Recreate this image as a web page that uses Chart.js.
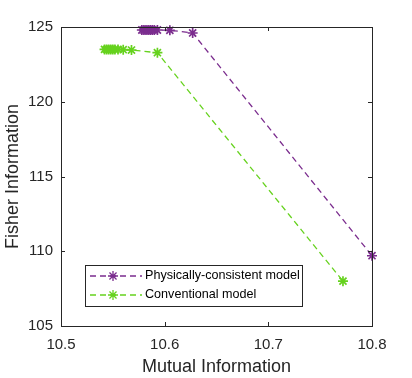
<!DOCTYPE html>
<html>
<head>
<meta charset="utf-8">
<script src="https://cdn.jsdelivr.net/npm/chart.js@4"></script>
<style>
  html, body { margin: 0; padding: 0; background: #fff; }
  #wrap { width: 412px; height: 378px; }
</style>
</head>
<body>
<div id="wrap"><canvas id="myChart" width="412" height="378"></canvas></div>
<script>
// values
const physMI = [10.578, 10.580, 10.582, 10.584, 10.586, 10.588, 10.590, 10.593, 10.605, 10.627, 10.800];
const physFI = [124.80, 124.80, 124.80, 124.80, 124.80, 124.80, 124.80, 124.80, 124.78, 124.60, 109.70];
const convMI = [10.542, 10.544, 10.546, 10.548, 10.550, 10.552, 10.555, 10.560, 10.568, 10.593, 10.772];
const convFI = [123.50, 123.50, 123.50, 123.50, 123.50, 123.50, 123.50, 123.48, 123.46, 123.28, 108.00];
const seriesNames = ["Physically-consistent model", "Conventional model"];
const xTicks = [10.5, 10.6, 10.7, 10.8];
const yTicks = [105, 110, 115, 120, 125];

const purple = "#7B2D8E";
const green = "#66D21E";
const FONT = "'Liberation Sans', Arial, sans-serif";

const toPoints = (xs, ys) => xs.map((x, i) => ({ x: x, y: ys[i] }));

const makeSet = (label, data, color) => ({
    label: label,
    data: data,
    borderColor: color,
    backgroundColor: color,
    borderWidth: 1.3,
    borderDash: [6, 4],
    pointStyle: "star",
    pointRadius: 5,
    pointBorderWidth: 1.7,
    showLine: true,
    tension: 0,
});

// MATLAB-like box with inward ticks and an inside legend
const boxPlugin = {
    id: "boxPlugin",
    afterDraw(chart) {
        const { ctx, chartArea: a, scales } = chart;
        ctx.save();
        ctx.strokeStyle = "#262626";
        ctx.lineWidth = 1;
        ctx.setLineDash([]);
        ctx.strokeRect(a.left + 0.5, a.top + 0.5, a.right - a.left, a.bottom - a.top);
        const len = 4;
        ctx.beginPath();
        xTicks.forEach(v => {
            const px = Math.round(scales.x.getPixelForValue(v)) + 0.5;
            ctx.moveTo(px, a.bottom); ctx.lineTo(px, a.bottom - len);
            ctx.moveTo(px, a.top); ctx.lineTo(px, a.top + len);
        });
        yTicks.forEach(v => {
            const py = Math.round(scales.y.getPixelForValue(v)) + 0.5;
            ctx.moveTo(a.left, py); ctx.lineTo(a.left + len, py);
            ctx.moveTo(a.right, py); ctx.lineTo(a.right - len, py);
        });
        ctx.stroke();

        // legend
        const lx = 85, ly = 265, lw = 217, lh = 41;
        ctx.fillStyle = "#fff";
        ctx.fillRect(lx, ly, lw, lh);
        ctx.strokeStyle = "#262626";
        ctx.strokeRect(lx + 0.5, ly + 0.5, lw, lh);
        chart.data.datasets.forEach((ds, i) => {
            const y = ly + 11 + i * 19;
            ctx.strokeStyle = ds.borderColor;
            ctx.lineWidth = 1.3;
            ctx.setLineDash([6, 4]);
            ctx.beginPath();
            ctx.moveTo(lx + 5, y);
            ctx.lineTo(lx + 57, y);
            ctx.stroke();
            ctx.setLineDash([]);
            Chart.helpers.drawPoint(ctx, { pointStyle: "star", radius: 5, borderWidth: 1.7 }, lx + 28, y);
            ctx.fillStyle = "#000";
            ctx.font = "12.6px " + FONT;
            ctx.textBaseline = "middle";
            ctx.fillText(ds.label, lx + 60, y);
        });
        ctx.restore();
    }
};

new Chart(document.getElementById("myChart"), {
    type: "scatter",
    data: {
        datasets: [
            makeSet(seriesNames[0], toPoints(physMI, physFI), purple),
            makeSet(seriesNames[1], toPoints(convMI, convFI), green),
        ]
    },
    options: {
        responsive: false,
        animation: false,
        clip: false,
        layout: { padding: { top: 27, right: 40, left: 0, bottom: 0 } },
        plugins: { legend: { display: false }, tooltip: { enabled: false } },
        scales: {
            x: {
                type: "linear",
                min: 10.5, max: 10.8,
                afterFit: s => { s.height = 52; },
                afterBuildTicks: s => { s.ticks = xTicks.map(v => ({ value: v })); },
                grid: { display: false, drawTicks: false },
                border: { display: false },
                ticks: {
                    padding: 10,
                    color: "#262626",
                    font: { family: FONT, size: 15 },
                    callback: v => v.toFixed(1),
                },
                title: {
                    display: true,
                    text: "Mutual Information",
                    color: "#262626",
                    font: { family: FONT, size: 18 },
                    padding: { top: 0, bottom: 0 },
                },
            },
            y: {
                min: 105, max: 125,
                afterFit: s => { s.width = 61; },
                afterBuildTicks: s => { s.ticks = yTicks.map(v => ({ value: v })); },
                grid: { display: false, drawTicks: false },
                border: { display: false },
                ticks: {
                    padding: 8,
                    color: "#262626",
                    font: { family: FONT, size: 15 },
                },
                title: {
                    display: true,
                    text: "Fisher Information",
                    color: "#262626",
                    font: { family: FONT, size: 18 },
                    padding: { top: 2, bottom: 0 },
                },
            },
        },
    },
    plugins: [boxPlugin],
});
</script>
</body>
</html>
